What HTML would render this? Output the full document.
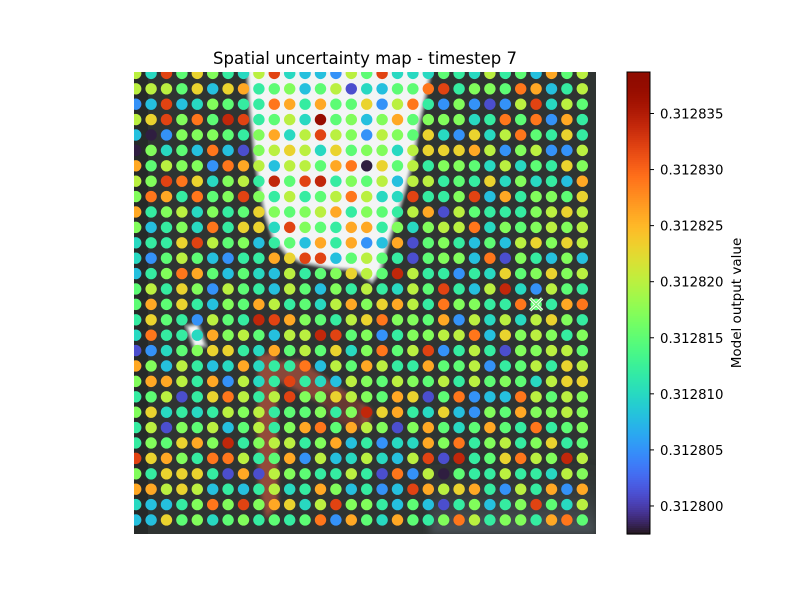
<!DOCTYPE html>
<html><head><meta charset="utf-8"><style>
body{margin:0;background:#fff;}
svg{display:block;font-family:"DejaVu Sans","Liberation Sans",sans-serif;}
</style></head><body>
<svg id="chart" width="800" height="600" viewBox="0 0 800 600" xmlns="http://www.w3.org/2000/svg">
<defs>
<clipPath id="plotClip"><rect x="134" y="72" width="462" height="462"/></clipPath>
<linearGradient id="lr" x1="0" y1="0" x2="0" y2="1"><stop offset="0" stop-color="#2f3533" stop-opacity="0"/><stop offset="1" stop-color="#4d555c"/></linearGradient>
<filter id="blur1"><feGaussianBlur stdDeviation="1"/></filter>
<filter id="blur2"><feGaussianBlur stdDeviation="2"/></filter>
<filter id="blur4"><feGaussianBlur stdDeviation="4"/></filter>
</defs>
<text x="365" y="64" text-anchor="middle" font-size="16.5" fill="#000">Spatial uncertainty map - timestep 7</text>
<g clip-path="url(#plotClip)">
<rect x="134" y="72" width="462" height="462" fill="#2f3432"/>
<rect x="134" y="72" width="14" height="462" fill="#262a29"/>
<rect x="430" y="460" width="166" height="74" fill="url(#lr)" filter="url(#blur4)"/>
<polygon filter="url(#blur1)" fill="#f3f5f5" stroke="#a0a6a6" stroke-width="3" points="247,66 249,100 252,130 255,160 260,190 265,215 273,238 286,254 300,262 330,268 355,270 372,282 380,272 386,250 395,222 405,190 413,160 420,120 427,90 432,66"/>
<g filter="url(#blur2)" opacity="0.75">
<polygon fill="#b5533e" points="258,355 276,352 278,505 266,520 258,480"/>
<polygon fill="#a8503c" points="274,362 300,360 372,410 368,428 300,392 276,380"/>
<polygon fill="#7a3a30" points="320,390 360,400 362,430 330,420"/>
</g>
<polygon fill="#f2f4f4" stroke="#8a9090" stroke-width="3" filter="url(#blur1)" points="186,326 198,324 206,346 194,348"/>
</g>
<g id="dots" clip-path="url(#plotClip)"></g>
<g id="marker"></g>
<g id="cbar"></g>
<text transform="translate(741,303) rotate(-90)" text-anchor="middle" font-size="13.5" fill="#000">Model output value</text>
</svg>
<script>
const baseValue = 0.3128;
const valuesE6 = [
[20,10,32,15,23,17,12,10,20,32,10,8,8,5,20,15,32,10,10,10,15,12,10,20,12,15,8,26,15,20],
[20,20,20,15,23,8,23,26,12,15,17,8,15,20,1,10,8,15,15,29,32,12,17,17,15,29,26,8,12,20],
[5,8,32,8,10,17,15,12,12,29,26,12,26,15,15,23,5,20,29,12,5,17,5,1,5,20,32,10,20,15],
[20,23,32,17,29,15,34,32,12,15,20,10,37,15,17,8,17,26,15,17,17,17,10,12,29,15,29,5,26,12],
[8,-2,5,17,17,17,15,12,17,26,10,20,32,20,17,5,20,17,15,23,10,5,23,10,20,29,15,12,23,12],
[-2,17,10,15,8,29,8,1,17,20,23,20,10,23,15,17,17,10,20,23,23,23,26,20,5,17,20,5,5,20],
[26,15,20,17,17,5,29,26,20,8,20,20,15,26,29,-2,23,15,20,12,17,17,15,10,20,10,15,12,23,17],
[20,17,32,29,23,10,17,20,12,34,15,32,34,12,17,15,20,8,20,20,12,15,12,23,10,17,10,12,8,26],
[17,29,26,12,29,15,17,32,17,12,20,12,15,20,29,20,10,10,32,12,12,17,32,8,26,12,17,17,15,23],
[26,12,17,20,10,17,12,15,23,17,15,17,20,26,12,17,15,12,20,26,1,20,15,12,12,12,17,20,23,20],
[17,8,12,17,10,29,12,23,23,10,32,17,15,12,26,26,12,17,10,17,20,20,29,10,17,15,17,20,17,20],
[10,12,12,23,32,20,15,17,8,12,15,8,26,12,26,5,8,26,1,15,17,12,8,15,8,20,23,17,23,20],
[10,5,15,20,15,8,5,12,12,26,23,32,32,8,15,20,15,12,1,15,17,17,8,29,1,17,12,8,17,8],
[8,12,17,29,26,15,8,15,10,8,20,12,15,17,23,20,15,34,20,12,12,5,12,10,23,15,17,23,17,20],
[15,20,12,23,17,5,20,15,12,8,20,15,8,17,12,20,12,10,20,15,32,12,8,20,34,10,5,20,15,12],
[15,26,15,23,12,8,17,15,26,20,12,15,10,20,26,17,23,26,20,12,29,17,17,12,12,29,15,12,26,29],
[12,23,15,12,5,20,15,12,34,32,26,17,15,12,20,23,29,17,17,15,26,5,20,10,20,10,20,23,17,12],
[10,29,12,12,10,26,17,20,15,8,20,20,34,32,15,17,5,12,17,17,20,20,29,8,23,17,20,17,12,17],
[1,5,10,15,17,23,23,12,10,26,15,20,15,23,10,17,29,15,20,32,5,12,20,12,1,17,17,20,20,15],
[26,17,8,20,12,8,10,26,10,12,12,29,8,20,15,26,20,12,12,26,15,15,20,5,12,15,20,12,23,20],
[17,26,26,20,12,26,5,20,10,12,32,12,10,8,20,17,15,20,17,15,20,12,20,15,17,15,10,20,23,23],
[12,15,20,1,12,23,29,20,12,20,32,17,17,23,20,17,15,26,23,1,15,29,5,8,8,29,20,15,20,17],
[17,23,10,12,10,12,20,17,20,12,15,15,17,12,17,34,23,26,12,10,23,8,5,17,15,26,17,17,20,17],
[12,20,1,17,15,20,8,15,20,12,17,26,29,15,26,20,17,1,17,26,15,10,15,26,15,12,29,12,15,17],
[12,17,15,23,26,17,34,12,17,20,20,12,17,26,8,12,5,10,10,26,17,29,12,17,20,12,17,23,12,15],
[32,23,26,17,12,29,29,20,12,15,26,5,20,8,10,20,10,8,20,32,1,34,12,15,23,29,20,17,34,20],
[17,12,23,23,23,12,1,26,1,20,17,15,12,12,20,12,1,29,5,20,-2,15,12,12,20,12,12,10,20,17],
[26,26,20,23,20,8,12,8,12,20,10,12,26,17,8,12,5,8,32,26,20,23,26,12,5,20,12,26,5,26],
[10,8,8,12,17,29,17,32,17,26,23,10,20,32,17,17,12,8,15,8,1,12,17,8,12,17,32,15,10,20],
[8,8,23,15,17,10,15,17,12,15,12,15,29,5,26,15,10,26,15,12,17,29,20,12,17,17,12,26,29,15]
];
const colorbarTicks = [0.312800, 0.312805, 0.312810, 0.312815, 0.312820, 0.312825, 0.312830, 0.312835];
const tickLabels = ["0.312800","0.312805","0.312810","0.312815","0.312820","0.312825","0.312830","0.312835"];
const markerCell = [26, 15];
const vmin = 0.3127975, vmax = 0.3128387;

const NS = "http://www.w3.org/2000/svg";
const plotX = 134, plotY = 72, plotW = 462, plotH = 462, nCols = 30, nRows = 30;
function xScale(i){ return plotX + (i + 0.11) * plotW / nCols; }
function yScale(j){ return plotY + (j + 0.09) * plotH / nRows; }
function cScale(v){ return 534 - (v - vmin) / (vmax - vmin) * 462; }
function turbo(t){
  t = Math.max(0, Math.min(1, t));
  const r = 0.13572138 + t*(4.61539260 + t*(-42.66032258 + t*(132.13108234 + t*(-152.94239396 + t*59.28637943))));
  const g = 0.09140261 + t*(2.19418839 + t*(4.84296658 + t*(-14.18503333 + t*(4.27729857 + t*2.82956604))));
  const b = 0.10667330 + t*(12.64194608 + t*(-60.58204836 + t*(110.36276771 + t*(-89.90310912 + t*27.34824973))));
  const c = x => Math.round(Math.max(0, Math.min(1, x)) * 255);
  return `rgb(${c(r)},${c(g)},${c(b)})`;
}
function colorOf(v){ return turbo((v - vmin) / (vmax - vmin)); }

const dots = document.getElementById('dots');
valuesE6.forEach((row, j) => {
  row.forEach((off, i) => {
    const v = baseValue + off * 1e-6;
    const c = document.createElementNS(NS, 'circle');
    
    
    c.setAttribute('cx', xScale(i));
    c.setAttribute('cy', yScale(j));
    c.setAttribute('r', 5.7);
    c.setAttribute('fill', colorOf(v));
    dots.appendChild(c);
  });
});

const mk = document.getElementById('marker');
const mx = xScale(markerCell[0]), my = yScale(markerCell[1]);
[['#fff',3.2],['#7df07a',1.4]].forEach(([col, w]) => {
  const p = document.createElementNS(NS, 'path');
  
  
  p.setAttribute('d', `M${mx-6},${my-6}L${mx+6},${my+6}M${mx-6},${my+6}L${mx+6},${my-6}`);
  p.setAttribute('stroke', col);
  p.setAttribute('stroke-width', w);
  mk.appendChild(p);
});

const cb = document.getElementById('cbar');
const steps = 231;
for (let k = 0; k < steps; k++) {
  const r = document.createElementNS(NS, 'rect');
  
  
  const y0 = 72 + k * 462 / steps;
  r.setAttribute('x', 627); r.setAttribute('y', y0);
  r.setAttribute('width', 23); r.setAttribute('height', 462 / steps + 0.6);
  r.setAttribute('fill', turbo(1 - (k + 0.5) / steps));
  cb.appendChild(r);
}
const frame = document.createElementNS(NS, 'rect');


frame.setAttribute('x', 627); frame.setAttribute('y', 72);
frame.setAttribute('width', 23); frame.setAttribute('height', 462);
frame.setAttribute('fill', 'none'); frame.setAttribute('stroke', '#000'); frame.setAttribute('stroke-width', 1);
cb.appendChild(frame);
colorbarTicks.forEach((v, k) => {
  const y = cScale(v);
  const t = document.createElementNS(NS, 'line');
  
  
  t.setAttribute('x1', 650); t.setAttribute('x2', 654);
  t.setAttribute('y1', y); t.setAttribute('y2', y);
  t.setAttribute('stroke', '#000');
  cb.appendChild(t);
  const tx = document.createElementNS(NS, 'text');
  
  
  tx.setAttribute('x', 660); tx.setAttribute('y', y + 5);
  tx.setAttribute('font-size', '13.3');
  tx.textContent = tickLabels[k];
  cb.appendChild(tx);
});
</script>
</body></html>
